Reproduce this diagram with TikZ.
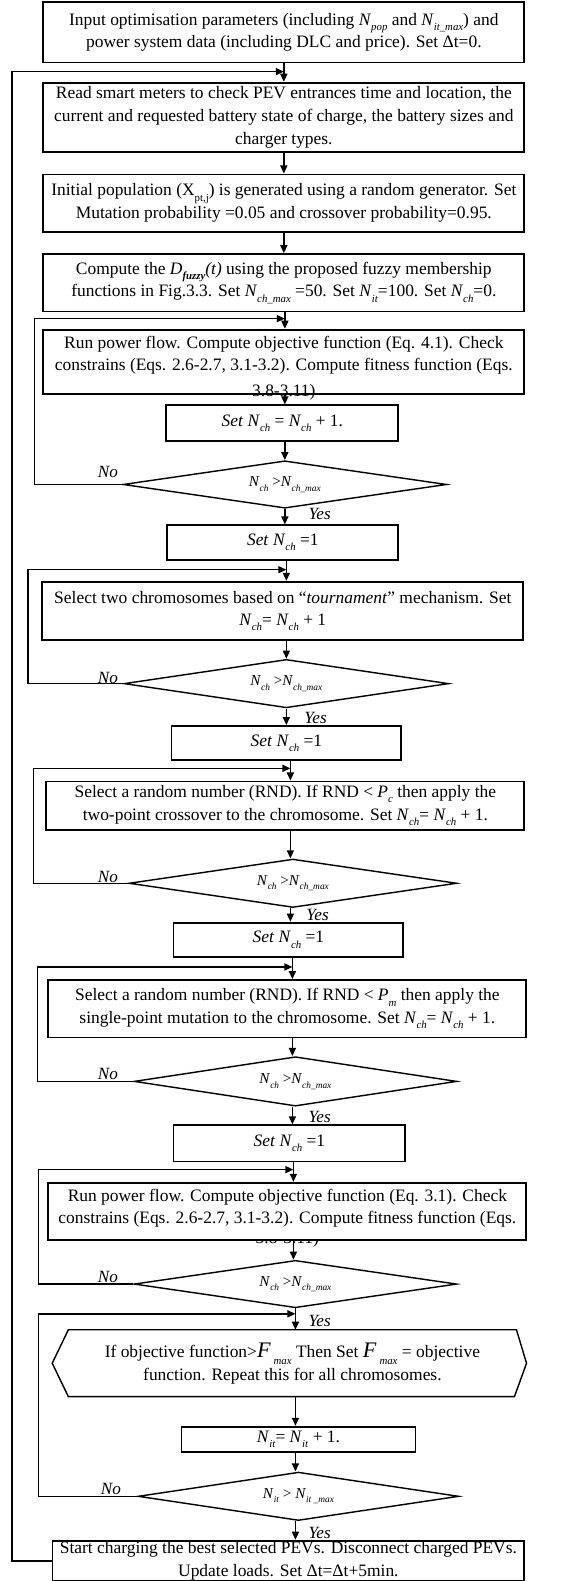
\documentclass[tikz,border=0pt]{standalone}
\usepackage{fontspec}
\setmainfont{Liberation Serif}
\usepackage{graphicx}
\usetikzlibrary{shapes.geometric,arrows.meta}
\newcommand{\ix}[2]{\textit{#1}\raisebox{-0.3em}{\scalebox{0.62}{\textit{#2}}}}
\newcommand{\rx}[2]{#1\raisebox{-0.3em}{\scalebox{0.62}{#2}}}
\newcommand{\Fmax}{{\fontsize{22}{22}\selectfont\textit{F}}\,\raisebox{-0.4em}{\scalebox{0.62}{\textit{max}}}}

\begin{document}
\begin{tikzpicture}[x=1pt,y=-1pt,
	stepbox/.style={draw,line width=1.8pt,fill=white,inner sep=0pt,align=center,font=\fontsize{17.3}{22.5}\selectfont},
	testbox/.style={draw,diamond,aspect=6.8,line width=1.4pt,inner sep=0pt,font=\fontsize{15}{17}\selectfont},
	flow/.style={line width=1.5pt,-{Triangle[length=8pt,width=7pt]}},
	answer/.style={font=\fontsize{17}{20}\selectfont\itshape}]
	\useasboundingbox (0,0) rectangle (563,1568);

	\node[stepbox,minimum width=477,minimum height=60] (inp) at (281.5,32) {Input optimisation parameters (including \ix{N}{pop} and \ix{N}{it\_max}) and\\power system data (including DLC and price). Set Δt=0.};
	\node[stepbox,minimum width=477,minimum height=69] (read) at (281.5,116.5) {Read smart meters to check PEV entrances time and location, the\\current and requested battery state of charge, the battery sizes and\\charger types.};
	\node[stepbox,minimum width=477,minimum height=57] (init) at (281.5,201.5) {Initial population (\rx{X}{pt,j}) is generated using a random generator. Set\\Mutation probability =0.05 and crossover probability=0.95.};
	\node[stepbox,minimum width=477,minimum height=57] (fuzzy) at (281.5,280.5) {Compute the \textit{D}\raisebox{-0.3em}{\scalebox{0.62}{\textbf{\textit{fuzzy}}}}\textit{(t)} using the proposed fuzzy membership\\functions in Fig.3.3. Set \ix{N}{ch\_max} =50. Set \ix{N}{it}=100. Set \ix{N}{ch}=0.};
	\node[stepbox,minimum width=477,minimum height=64,text depth=17pt] (flowA) at (281.5,359) {Run power flow. Compute objective function (Eq. 4.1). Check\\constrains (Eqs. 2.6-2.7, 3.1-3.2). Compute fitness function (Eqs.};
	\node[anchor=base,inner sep=0pt,font=\fontsize{17.3}{22.5}\selectfont] (tailA) at (281.5,393.5) {3.8-3.11)};
	\node[stepbox,minimum width=230,minimum height=35] (incA) at (280,419.5) {\textit{Set} \ix{N}{ch} = \ix{N}{ch} + 1.};
	\node[testbox,minimum width=321,minimum height=47] (chkA) at (282.5,480.5) {\ix{N}{ch} >\ix{N}{ch\_max}};
	\node[stepbox,minimum width=229,minimum height=34] (resA) at (280.5,538) {\textit{Set} \ix{N}{ch} =1};

	\node[stepbox,minimum width=477,minimum height=58] (sel) at (280.5,606) {Select two chromosomes based on “\textit{tournament}” mechanism. Set\\\ix{N}{ch}= \ix{N}{ch} + 1};
	\node[testbox,minimum width=322,minimum height=48] (chkB) at (284,678) {\ix{N}{ch} >\ix{N}{ch\_max}};
	\node[stepbox,minimum width=228,minimum height=34] (resB) at (284,737) {\textit{Set} \ix{N}{ch} =1};

	\node[stepbox,minimum width=474,minimum height=48] (cross) at (283,799) {Select a random number (RND). If RND < \ix{P}{c} then apply the\\two-point crossover to the chromosome. Set \ix{N}{ch}= \ix{N}{ch} + 1.};
	\node[testbox,minimum width=325,minimum height=48] (chkC) at (290.5,876) {\ix{N}{ch} >\ix{N}{ch\_max}};
	\node[stepbox,minimum width=228,minimum height=34] (resC) at (286,932) {\textit{Set} \ix{N}{ch} =1};

	\node[stepbox,minimum width=474,minimum height=57] (mut) at (285,1000.5) {Select a random number (RND). If RND < \ix{P}{m} then apply the\\single-point mutation to the chromosome. Set \ix{N}{ch}= \ix{N}{ch} + 1.};
	\node[testbox,minimum width=320,minimum height=49] (chkD) at (293,1072.5) {\ix{N}{ch} >\ix{N}{ch\_max}};
	\node[stepbox,minimum width=230,minimum height=36] (resD) at (287,1134) {\textit{Set} \ix{N}{ch} =1};

	\node[anchor=base,inner sep=0pt,font=\fontsize{17.3}{22.5}\selectfont] (tailB) at (285,1233.5) {3.8-3.11)};
	\node[stepbox,minimum width=474,minimum height=57,text depth=10pt] (flowB) at (285,1201.5) {Run power flow. Compute objective function (Eq. 3.1). Check\\constrains (Eqs. 2.6-2.7, 3.1-3.2). Compute fitness function (Eqs.};
	\node[testbox,minimum width=320,minimum height=47] (chkE) at (293,1273.5) {\ix{N}{ch} >\ix{N}{ch\_max}};

	\node[inner sep=0pt,align=center,minimum width=444,minimum height=66,font=\fontsize{17.3}{23}\selectfont] (best) at (290,1352) {If objective function>\Fmax{} Then Set \Fmax{} = objective\\function. Repeat this for all chromosomes.};
	\draw[line width=1.4pt] (best.north west) -- (best.north east) -- ([xshift=10]best.east) -- ([xshift=-2]best.south east) -- (best.south west) -- ([xshift=-16]best.west) -- cycle;
	\node[stepbox,minimum width=232,minimum height=25] (incIt) at (296,1427.5) {\ix{N}{it}= \ix{N}{it} + 1.};
	\node[testbox,minimum width=318,minimum height=48] (chkF) at (296,1484) {\ix{N}{it} > \ix{N}{it \_max}};
	\node[stepbox,minimum width=468,minimum height=40] (start) at (286,1548) {Start charging the best selected PEVs. Disconnect charged PEVs.\\Update loads. Set Δt=Δt+5min.};

	\coordinate (jO) at (281.5,71);
	\coordinate (jA) at (282.5,316);
	\coordinate (jB) at (284,565);
	\coordinate (jC) at (288,762);
	\coordinate (jD) at (290,959);
	\coordinate (jE) at (291,1160);
	\coordinate (jF) at (293,1303);
	\coordinate (kO) at (12,71);
	\coordinate (kA) at (34,316);
	\coordinate (kB) at (28,565);
	\coordinate (kC) at (33,762);
	\coordinate (kD) at (37,959);
	\coordinate (kE) at (38,1160);
	\coordinate (kF) at (38,1303);

	\draw[flow] (inp.south -| jO) -- (read.north -| jO);
	\draw[flow] (read.south -| jO) -- (init.north -| jO);
	\draw[flow] (init.south -| jO) -- (fuzzy.north -| jO);
	\draw[flow] (fuzzy.south -| jA) -- (flowA.north -| jA);
	\draw[flow] (flowA.south -| chkA) -- (incA.north -| chkA);
	\draw[flow] (incA.south -| chkA) -- (chkA.north);
	\draw[flow] (chkA.south) -- (resA.north -| chkA);
	\draw[flow] (resA.south -| jB) -- (sel.north -| jB);
	\draw[flow] (sel.south -| chkB) -- (chkB.north);
	\draw[flow] (chkB.south) -- (resB.north -| chkB);
	\draw[flow] (resB.south -| jC) -- (cross.north -| jC);
	\draw[flow] (cross.south -| jC) -- (chkC.north -| jC);
	\draw[flow] (chkC.south -| jC) -- (resC.north -| jC);
	\draw[flow] (resC.south -| jD) -- (mut.north -| jD);
	\draw[flow] (mut.south -| jD) -- (chkD.north -| jD);
	\draw[flow] (chkD.south -| jD) -- (resD.north -| jD);
	\draw[flow] (resD.south -| jE) -- (flowB.north -| jE);
	\draw[flow] (flowB.south -| jE) -- (chkE.north -| jE);
	\draw[flow] (chkE.south -| jF) -- (best.north -| jF);
	\draw[flow] (best.south -| jF) -- (incIt.north -| jF);
	\draw[flow] (incIt.south -| jF) -- (chkF.north -| jF);
	\draw[flow] (chkF.south -| jF) -- (start.north -| jF);

	\draw[flow] (chkA.west) -| (kA) -- (jA);
	\draw[flow] (chkB.west) -| (kB) -- (jB);
	\draw[flow] (chkC.west) -| (kC) -- (jC);
	\draw[flow] (chkD.west) -| (kD) -- (jD);
	\draw[flow] (chkE.west) -| (kE) -- (jE);
	\draw[flow] (chkF.west) -| (kF) -- (jF);
	\draw[flow] (start.west) -| (kO) -- (jO);

	\node[answer] (noA) at (107,468) {No};
	\node[answer] (noB) at (107,672) {No};
	\node[answer] (noC) at (107,870) {No};
	\node[answer] (noD) at (107,1065) {No};
	\node[answer] (noE) at (107,1266) {No};
	\node[answer] (noF) at (110,1477) {No};
	\node[answer] (yesA) at (317,510) {Yes};
	\node[answer] (yesB) at (313,712) {Yes};
	\node[answer] (yesC) at (315,907) {Yes};
	\node[answer] (yesD) at (317,1108) {Yes};
	\node[answer] (yesE) at (317,1310) {Yes};
	\node[answer] (yesF) at (317,1520) {Yes};
\end{tikzpicture}
\end{document}
